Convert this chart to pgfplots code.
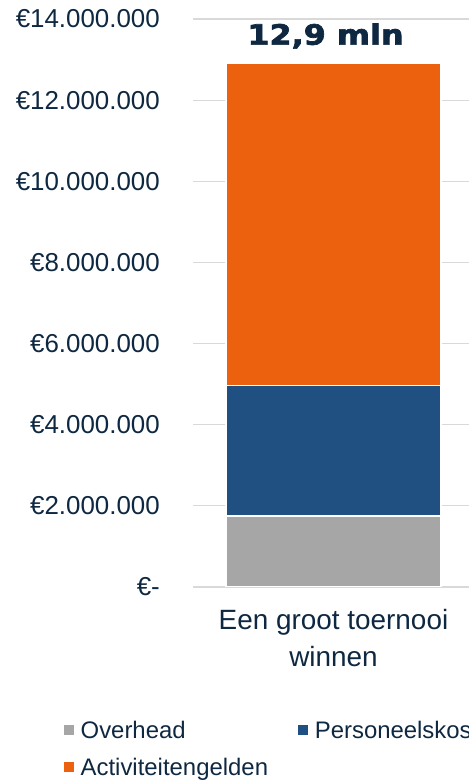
\documentclass[border=0pt]{standalone}
\usepackage{pgfplots}
\pgfplotsset{compat=1.18}
\usepackage{fontspec}
\setmainfont{Liberation Sans}
\newfontfamily\titlefont[FakeStretch=1.14,FakeBold=2.5]{DejaVu Sans}
\definecolor{navy}{HTML}{0E2841}
\definecolor{orng}{HTML}{EC610D}
\definecolor{blu}{HTML}{1F5081}
\definecolor{gry}{HTML}{A6A6A6}
\definecolor{gridc}{HTML}{D9D9D9}
\begin{document}
\begin{tikzpicture}
\useasboundingbox (0,0) rectangle (469bp,782bp);
\begin{axis}[
  at={(193bp,195bp)}, anchor=south west,
  scale only axis, width=281bp, height=568bp,
  ybar stacked, bar width=215bp,
  xmin=-0.5, xmax=0.5, ymin=0, ymax=14000000,
  axis line style={draw=none},
  tick style={draw=none},
  ymajorgrids, grid style={gridc, line width=1.2bp},
  scaled y ticks=false,
  ytick={0,2000000,4000000,6000000,8000000,10000000,12000000,14000000},
  yticklabels={€-,€2.000.000,€4.000.000,€6.000.000,€8.000.000,€10.000.000,€12.000.000,€14.000.000},
  yticklabel style={font=\fontsize{26}{30}\selectfont, text=navy, inner sep=0pt, anchor=east, xshift=-33bp},
  xtick={0},
  xticklabels={{Een groot toernooi\\winnen}},
  xticklabel style={font=\fontsize{28}{37}\selectfont, text=navy, align=center, inner sep=0pt, anchor=north, yshift=-22bp},
  legend columns=2,
  legend cell align=left,
  legend style={draw=none, fill=none, inner sep=0pt,
    at={(-0.46,-0.232)}, anchor=north west,
    font=\fontsize{24}{28}\selectfont, text=navy,
    nodes={inner sep=2bp},
    /tikz/every even column/.append style={column sep=28bp},
    row sep=14bp},
  legend image code/.code={\fill[#1,draw=none] (0bp,-5bp) rectangle (10bp,5bp); \path (14bp,0bp);},
]
\addplot[fill=gry, draw=white, line width=1.5bp] coordinates {(0,1750000)};
\addlegendentry{Overhead}
\addplot[fill=blu, draw=white, line width=1.5bp] coordinates {(0,3220000)};
\addlegendentry{Personeelskosten}
\addplot[fill=orng, draw=white, line width=1.5bp] coordinates {(0,7930000)};
\addlegendentry{Activiteitengelden}
\node[font=\titlefont\bfseries\fontsize{28}{30}\selectfont, text=navy, xshift=-8bp] at (axis cs:0,13580000) {12,9 mln};
\end{axis}
\end{tikzpicture}
\end{document}
